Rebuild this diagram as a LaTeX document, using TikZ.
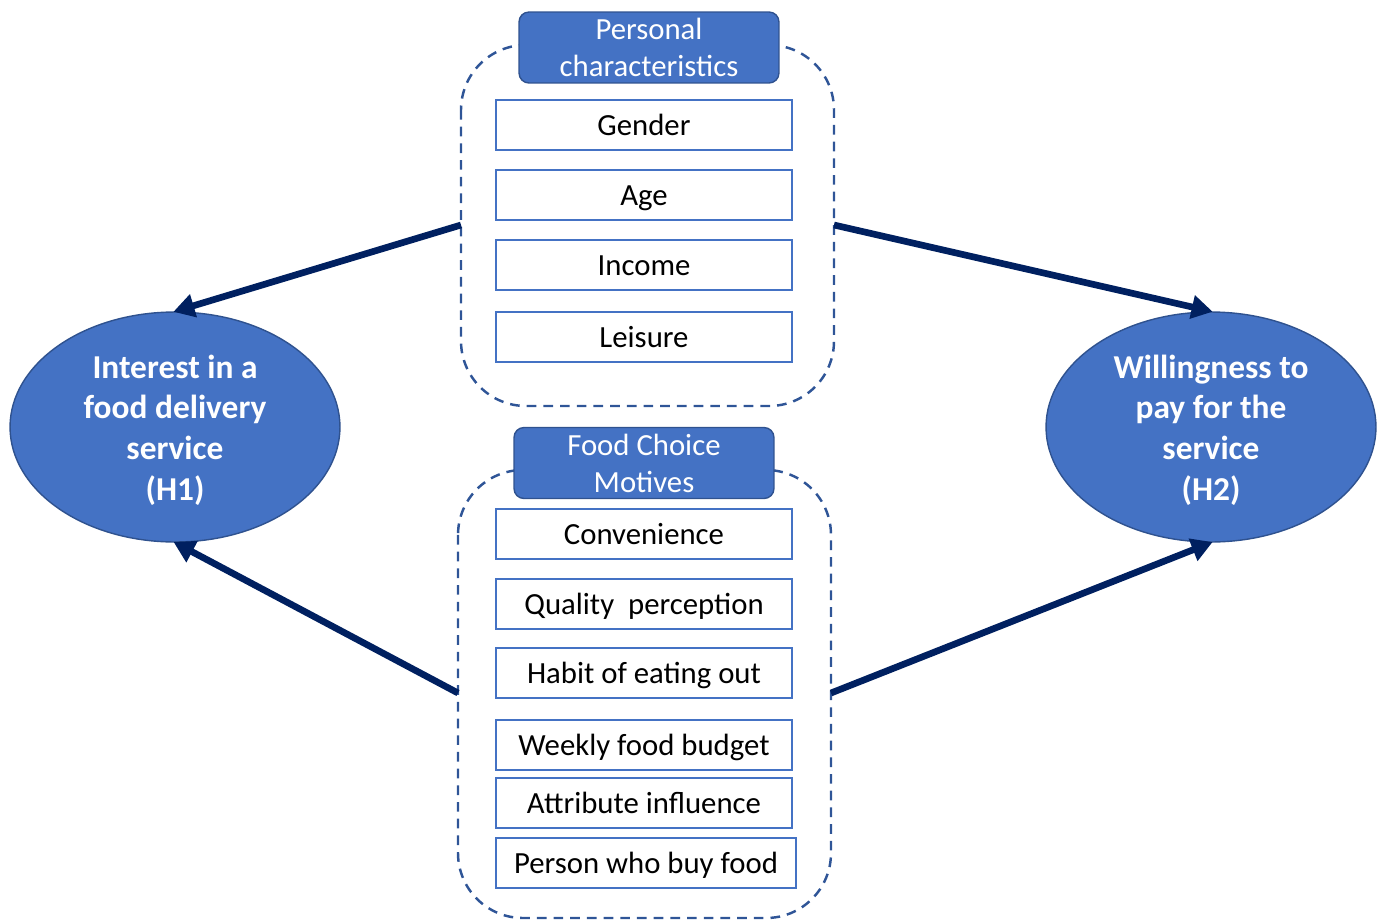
\documentclass[tikz,border=0pt]{standalone}
\usepackage{fontspec}
\setmainfont{Carlito}
\usetikzlibrary{arrows.meta,shapes.geometric}
\definecolor{accent}{HTML}{4472C4}
\definecolor{accentdark}{HTML}{2F528F}
\definecolor{dashblue}{HTML}{2F5597}
\definecolor{navy}{HTML}{002060}
\tikzset{
  itembox/.style={draw=accent, line width=1.1pt, fill=white, minimum width=5.92cm, minimum height=1.0cm,
    inner sep=0pt, text height=12pt, text depth=0pt, font=\fontsize{17.5}{21}\selectfont, text=black},
  header/.style={draw=accentdark, line width=0.8pt, fill=accent, rounded corners=0.2cm, minimum width=5.2cm,
    minimum height=1.42cm, inner sep=0pt, align=center, text=white, font=\fontsize{17.5}{21}\selectfont},
  group/.style={draw=dashblue, line width=1.4pt, dash pattern=on 5.5pt off 4pt, rounded corners=1.3cm},
  outcome/.style={ellipse, draw=accentdark, line width=0.8pt, fill=accent, minimum width=6.6cm, minimum height=4.6cm,
    inner sep=0pt},
  outtext/.style={align=center, text=white, inner sep=0pt, font=\bfseries\fontsize{19}{23.2}\selectfont},
  link/.style={draw=navy, line width=3.8pt, -{Triangle[length=12pt,width=13pt]}, shorten >=-1pt}
}
\begin{document}
\begin{tikzpicture}[x=0.02cm,y=-0.02cm]
\useasboundingbox (0,0) rectangle (1386,920);

% dashed group frames
\draw[group] (461,45) rectangle (834,406);
\draw[group] (458,470) rectangle (831,918);

% group headers
\node[header] (pc) at (649,47.5) {Personal\\characteristics};
\node[header] (fc) at (644,463) {Food Choice\\Motives};

% personal characteristics
\node[itembox] (gender) at (644,125) {Gender};
\node[itembox] (age) at (644,195) {Age};
\node[itembox] (income) at (644,265) {Income};
\node[itembox] (leisure) at (644,337) {Leisure};

% food choice motives
\node[itembox] (conv) at (644,534) {Convenience};
\node[itembox] (qual) at (644,604) {Quality\ \ perception};
\node[itembox] (habit) at (644,673) {Habit of eating out};
\node[itembox] (budget) at (644,745) {Weekly food budget};
\node[itembox] (attr) at (644,803) {Attribute influence};
\node[itembox, minimum width=6.0cm] (buyer) at (646,863) {Person who buy food};

% outcomes
\node[outcome] (h1) at (175,427) {};
\node[outtext] (h1text) at (175,430) {Interest in a\\food delivery\\service\\(H1)};
\node[outcome] (h2) at (1211,427) {};
\node[outtext] (h2text) at (1211,430) {Willingness to\\pay for the\\service\\(H2)};

% arrow origins on the group frames
\coordinate (pcL) at (461,225);
\coordinate (pcR) at (834,225);
\coordinate (fcL) at (458,693);
\coordinate (fcR) at (831,693);

\draw[link] (pcL) -- (h1.north);
\draw[link] (pcR) -- (h2.north);
\draw[link] (fcL) -- (h1.south);
\draw[link] (fcR) -- (h2.south);
\end{tikzpicture}
\end{document}
